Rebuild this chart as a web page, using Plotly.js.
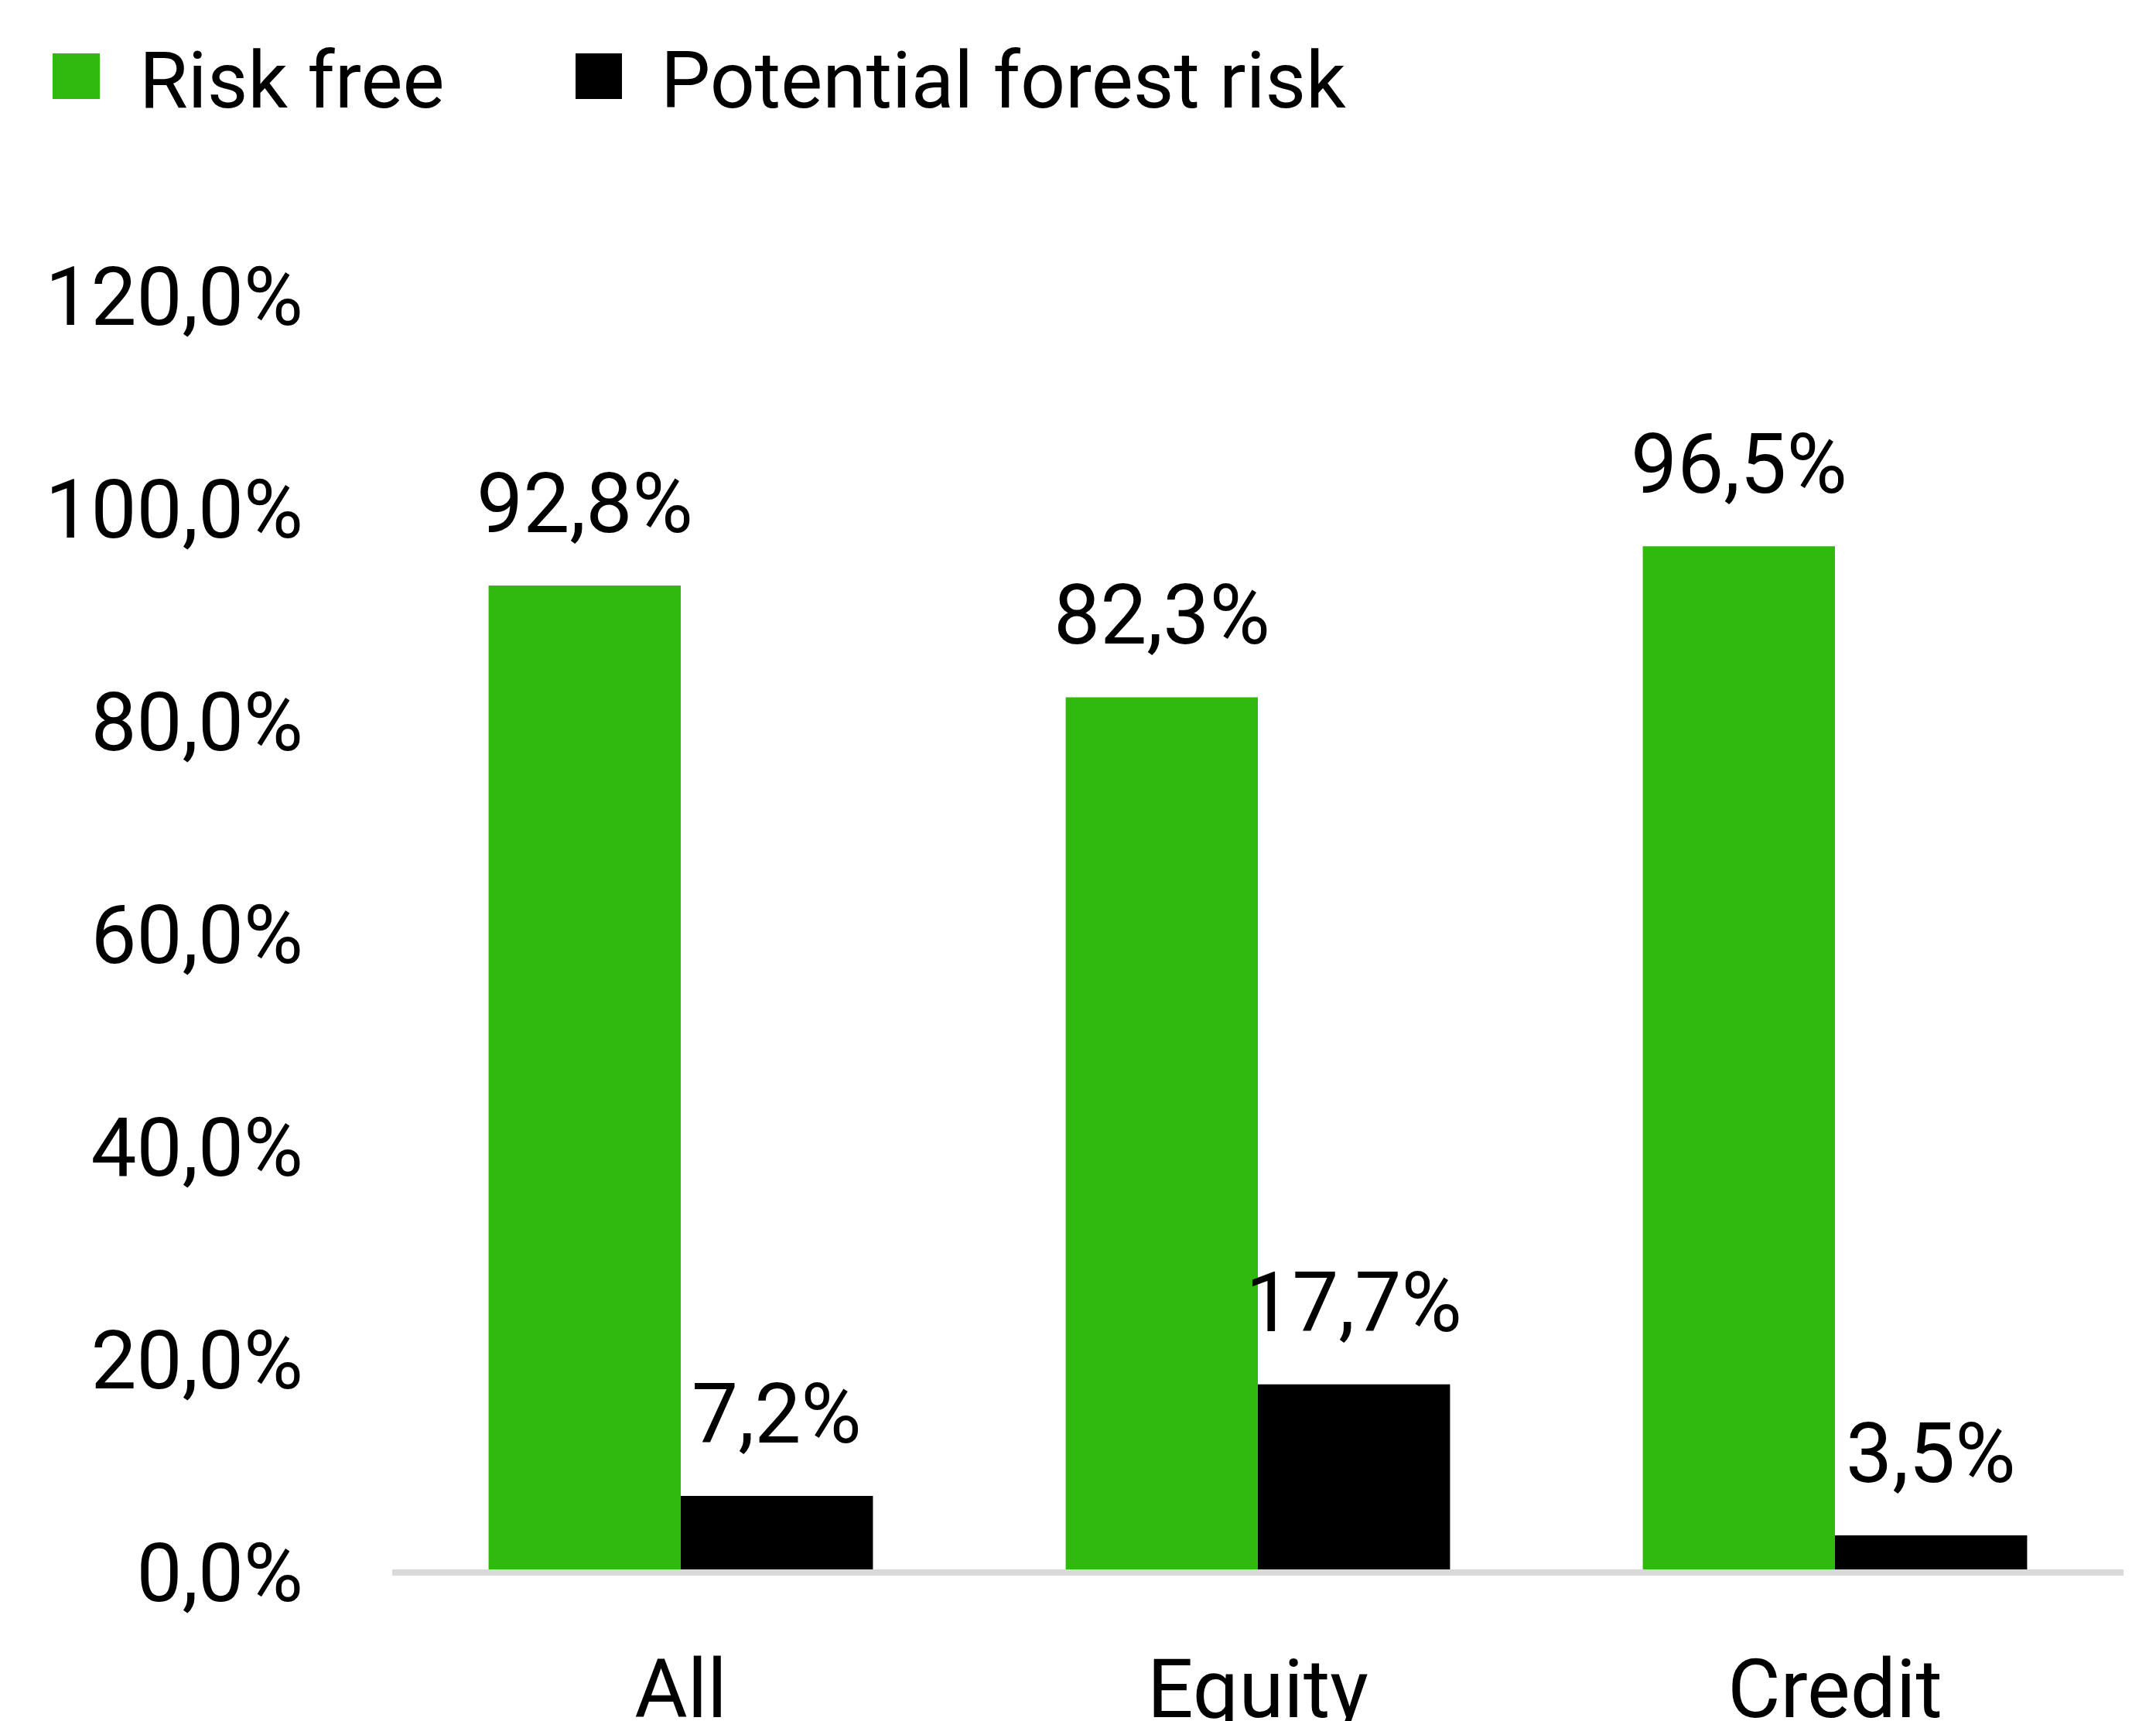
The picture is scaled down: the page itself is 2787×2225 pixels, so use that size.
<!DOCTYPE html>
<html><head><meta charset="utf-8">
<script src="https://cdn.plot.ly/plotly-3.0.1.min.js"></script>
<style>html,body{margin:0;padding:0;background:#fff;} #chart{width:2787px;height:2225px;}</style>
</head><body><div id="chart"></div>
<script>
const categories = ["All", "Equity", "Credit"];
const seriesNames = ["Risk free", "Potential forest risk"];
const riskFree = [92.8, 82.3, 96.5];
const forestRisk = [7.2, 17.7, 3.5];
const tickValues = [0, 20, 40, 60, 80, 100, 120];
const tickLabels = ["0,0%", "20,0%", "40,0%", "60,0%", "80,0%", "100,0%", "120,0%"];
const seriesColors = ["#30BA0E", "#000000"];

const W = 2787, H = 2225;
const M = {l: 507, r: 42, t: 383, b: 185};
const FONT = "Roboto, 'Liberation Sans', Arial, sans-serif";
const pw = W - M.l - M.r, ph = H - M.t - M.b;
const px2x = p => (p - M.l) / pw;
const px2y = p => (H - M.b - p) / ph;

function fmt(v) { return v.toFixed(1).replace('.', ',') + '%'; }

const seriesValues = [riskFree, forestRisk];
const traces = seriesValues.map((vals, i) => ({
  type: 'bar',
  name: seriesNames[i],
  x: categories,
  y: vals,
  marker: {color: seriesColors[i], line: {width: 0}},
  hoverinfo: 'skip'
}));

const halfBar = 124;
const annotations = [];
seriesValues.forEach((vals, i) => {
  vals.forEach((v, j) => {
    annotations.push({
      x: categories[j], y: v, xref: 'x', yref: 'y',
      text: fmt(v), showarrow: false,
      xanchor: 'center', yanchor: 'bottom',
      xshift: i === 0 ? -halfBar : halfBar, yshift: 41,
      font: {family: FONT, size: 107, color: '#000'}
    });
  });
});

// manual legend
const legendSquares = [[68, 129], [744, 804]];
const legendTextX = [178, 852];
const shapes = [];
seriesNames.forEach((n, i) => {
  shapes.push({
    type: 'rect', xref: 'paper', yref: 'paper',
    x0: px2x(legendSquares[i][0]), x1: px2x(legendSquares[i][1]),
    y0: px2y(128), y1: px2y(69),
    fillcolor: seriesColors[i], line: {width: 0}
  });
  annotations.push({
    xref: 'paper', yref: 'paper', x: px2x(legendTextX[i]), y: px2y(103.5),
    xanchor: 'left', yanchor: 'middle', showarrow: false,
    text: n, font: {family: FONT, size: 102, color: '#000'}
  });
});
// baseline axis line
shapes.push({
  type: 'line', xref: 'paper', yref: 'y', x0: 0, x1: 1, y0: 0, y1: 0,
  line: {color: '#D9D9D9', width: 8}, layer: 'above'
});

const layout = {
  width: W, height: H,
  margin: M,
  paper_bgcolor: '#fff', plot_bgcolor: '#fff',
  showlegend: false,
  barmode: 'group', bargap: 0.334, bargroupgap: 0,
  xaxis: {
    type: 'category', range: [-0.5, 2.5],
    showgrid: false, zeroline: false, showline: false, ticks: '',
    tickfont: {family: FONT, size: 105, color: '#000'},
    ticklabelstandoff: 74, fixedrange: true
  },
  yaxis: {
    range: [-0.5, 120],
    tickmode: 'array', tickvals: tickValues, ticktext: tickLabels,
    showgrid: false, zeroline: false, showline: false, ticks: '',
    tickfont: {family: FONT, size: 105, color: '#000'},
    ticklabelstandoff: 114, fixedrange: true
  },
  shapes: shapes,
  annotations: annotations
};

Plotly.newPlot('chart', traces, layout, {displayModeBar: false, staticPlot: true});
</script>
</body></html>
